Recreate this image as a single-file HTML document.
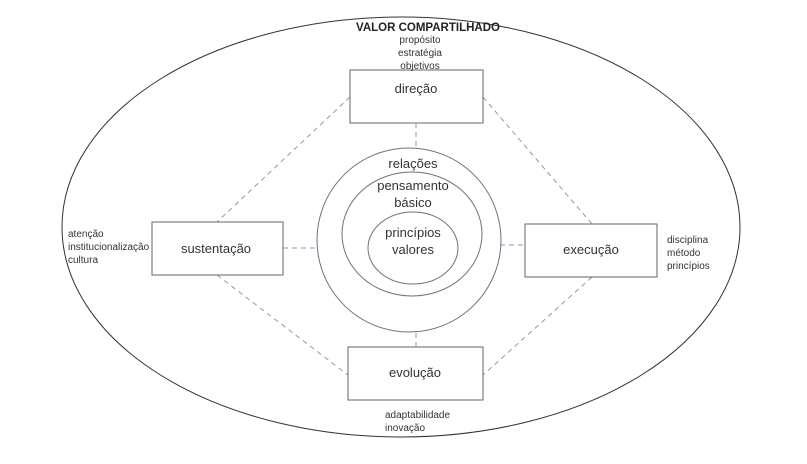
<!DOCTYPE html>
<html><head><meta charset="utf-8"><style>
body{margin:0;background:#fff;}
svg{display:block;font-family:"Liberation Sans","DejaVu Sans",sans-serif;}
</style></head><body>
<svg width="807" height="464" viewBox="0 0 807 464">
<ellipse cx="401" cy="227" rx="339" ry="210" fill="none" stroke="#333" stroke-width="1"/>
<g stroke="#8a9ab5" stroke-width="1" stroke-dasharray="5,4" fill="none">
<line x1="350" y1="97" x2="217" y2="222"/>
<line x1="483" y1="97" x2="592" y2="224"/>
<line x1="217" y1="275" x2="348" y2="375"/>
<line x1="592" y1="277" x2="483" y2="375"/>
<line x1="416" y1="123" x2="416" y2="147"/>
<line x1="283" y1="248" x2="317" y2="248"/>
<line x1="500" y1="245" x2="525" y2="245"/>
<line x1="416" y1="333" x2="416" y2="347"/>
</g>
<g fill="#fff" stroke="#666" stroke-width="1">
<rect x="350" y="70" width="133" height="53"/>
<rect x="152" y="222" width="131" height="53"/>
<rect x="525" y="224" width="132" height="53"/>
<rect x="348" y="347" width="135" height="53"/>
</g>
<g fill="none" stroke="#6a7288" stroke-width="1">
<circle cx="409" cy="240" r="92"/>
<ellipse cx="412" cy="234" rx="70" ry="62"/>
<ellipse cx="413" cy="248" rx="45" ry="36"/>
</g>
<g fill="#333" text-anchor="middle">
<text x="428" y="31" font-size="11.5" font-weight="bold" fill="#222">VALOR COMPARTILHADO</text>
<text x="420" y="43" font-size="10">propósito</text>
<text x="420" y="56" font-size="10">estratégia</text>
<text x="420" y="69" font-size="10">objetivos</text>
<text x="416" y="93" font-size="13">direção</text>
<text x="216" y="253" font-size="13">sustentação</text>
<text x="591" y="254" font-size="13">execução</text>
<text x="415" y="377" font-size="13">evolução</text>
<text x="413" y="168" font-size="13">relações</text>
<text x="413" y="190" font-size="13">pensamento</text>
<text x="413" y="207" font-size="13">básico</text>
<text x="413" y="237" font-size="13">princípios</text>
<text x="413" y="254" font-size="13">valores</text>
</g>
<g fill="#333" font-size="10">
<text x="68" y="237">atenção</text>
<text x="68" y="250">institucionalização</text>
<text x="68" y="263">cultura</text>
<text x="667" y="243">disciplina</text>
<text x="667" y="256">método</text>
<text x="667" y="269">princípios</text>
<text x="385" y="418">adaptabilidade</text>
<text x="385" y="431">inovação</text>
</g>
</svg>
</body></html>
